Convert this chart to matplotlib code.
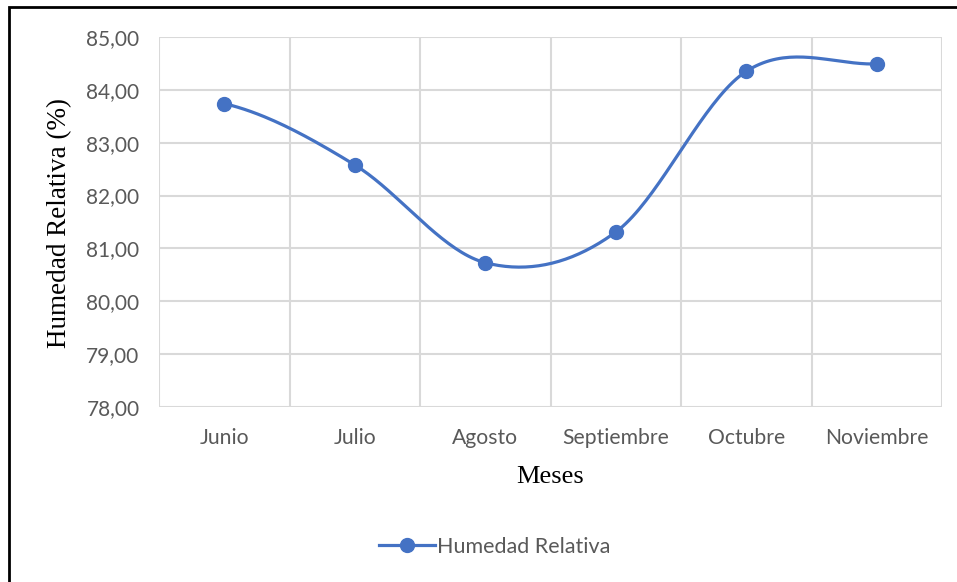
import numpy as np
import matplotlib
matplotlib.use("Agg")
import matplotlib.pyplot as plt
from matplotlib.patches import Rectangle
from matplotlib.lines import Line2D
from matplotlib.ticker import FixedLocator, FuncFormatter

# data
meses = ["Junio", "Julio", "Agosto", "Septiembre", "Octubre", "Noviembre"]
humedad = [83.74, 82.58, 80.73, 81.31, 84.35, 84.49]
y_ticks = [78, 79, 80, 81, 82, 83, 84, 85]

LINE_COLOR = "#4472C4"
TEXT_GRAY = "#595959"
GRID_GRAY = "#D9D9D9"
SANS = ["Lato", "DejaVu Sans"]
SERIF = ["Liberation Serif", "DejaVu Serif"]


def smooth_curve(x, y, n=40):
    # Catmull-Rom style smoothing, like Excel's "smoothed line"
    x = np.asarray(x, float)
    y = np.asarray(y, float)
    xs, ys = [], []
    for i in range(len(x) - 1):
        y0 = y[i - 1] if i > 0 else y[i]
        y3 = y[i + 2] if i + 2 < len(y) else y[i + 1]
        m0 = (y[i + 1] - y0) / 2
        m1 = (y3 - y[i]) / 2
        t = np.linspace(0, 1, n)
        h00 = 2 * t**3 - 3 * t**2 + 1
        h10 = t**3 - 2 * t**2 + t
        h01 = -2 * t**3 + 3 * t**2
        h11 = t**3 - t**2
        xs.append(x[i] + t * (x[i + 1] - x[i]))
        ys.append(h00 * y[i] + h10 * m0 + h01 * y[i + 1] + h11 * m1)
    return np.concatenate(xs), np.concatenate(ys)


def main():
    fig = plt.figure(figsize=(9.57, 5.82), dpi=100)
    ax = fig.add_axes([159 / 957, 1 - 407 / 582, (942 - 159) / 957, (407 - 37) / 582])

    xpos = np.arange(len(meses))
    sx, sy = smooth_curve(xpos, humedad)
    ax.plot(sx, sy, color=LINE_COLOR, lw=2.3, solid_capstyle="round", zorder=3)
    ax.plot(xpos, humedad, "o", color=LINE_COLOR, ms=10, zorder=4)

    ax.set_xlim(-0.5, len(meses) - 0.5)
    ax.set_ylim(78, 85)
    ax.set_xticks(xpos)
    ax.set_xticklabels(meses)
    ax.xaxis.set_minor_locator(FixedLocator(np.arange(-0.5, len(meses), 1.0)))
    ax.set_yticks(y_ticks)
    ax.yaxis.set_major_formatter(FuncFormatter(lambda v, p: f"{v:.2f}".replace(".", ",")))

    ax.grid(True, which="minor", axis="x", color=GRID_GRAY, lw=1.5)
    ax.grid(True, which="major", axis="y", color=GRID_GRAY, lw=1.5)
    ax.tick_params(which="both", length=0)
    ax.tick_params(axis="x", pad=15, labelcolor=TEXT_GRAY, labelsize=15.2)
    ax.tick_params(axis="y", pad=14, labelcolor=TEXT_GRAY, labelsize=15)
    for lab in ax.get_xticklabels() + ax.get_yticklabels():
        lab.set_family(SANS)
    for s in ax.spines.values():
        s.set_visible(False)
    ax.set_axisbelow(True)

    fig.text(550 / 957, 1 - 477 / 582, "Meses", family=SERIF, fontsize=19,
             ha="center", va="center")
    fig.text(60 / 957, 1 - 223 / 582, "Humedad Relativa (%)", family=SERIF, fontsize=19.5,
             rotation=90, ha="center", va="center")

    # legend
    handle = Line2D([], [], color=LINE_COLOR, lw=2.3, marker="o", ms=10)
    fig.legend(handles=[handle], labels=["Humedad Relativa"], loc="center",
               bbox_to_anchor=(495 / 957, 1 - 547 / 582), frameon=False,
               prop={"family": SANS, "size": 15.5}, labelcolor=TEXT_GRAY,
               handlelength=2.6, handletextpad=0.1)

    # outer frame (only left and top edges visible in the crop)
    fig.add_artist(Rectangle((9 / 957, -0.1), 2.0, 1.1 - 7 / 582,
                             transform=fig.transFigure, fill=False,
                             edgecolor="black", lw=2))

    fig.savefig("out.png", dpi=100)


if __name__ == "__main__":
    main()
